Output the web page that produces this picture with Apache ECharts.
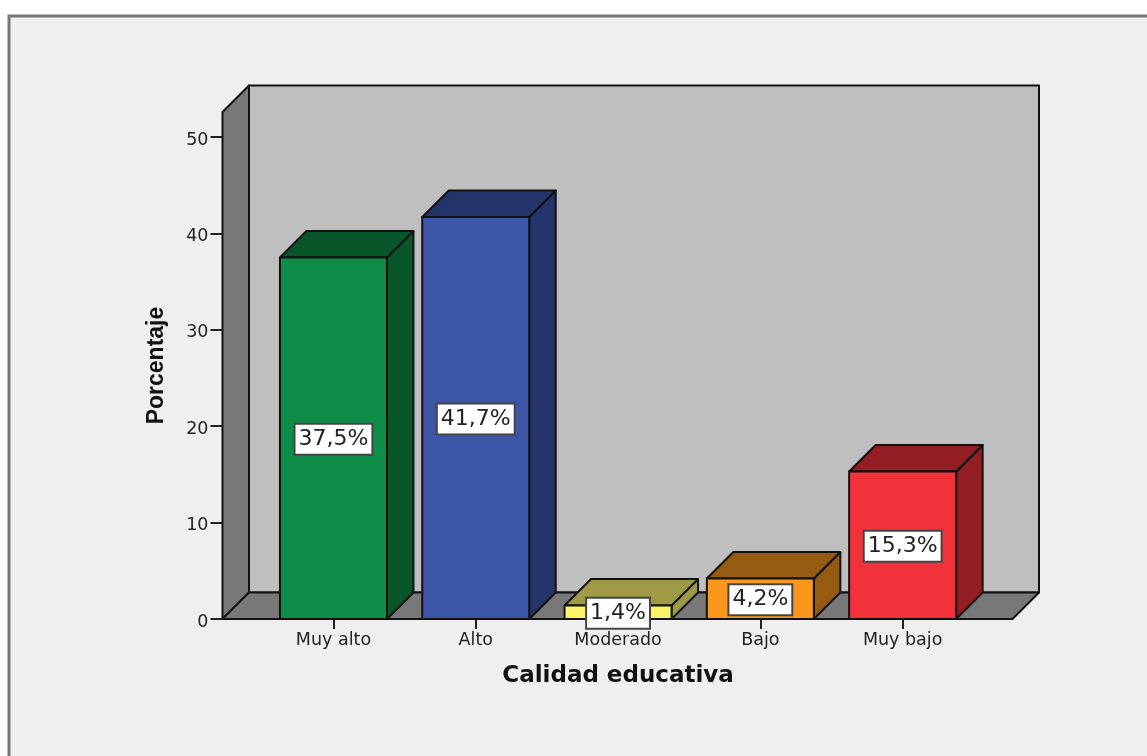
<!DOCTYPE html>
<html><head><meta charset="utf-8">
<style>html,body{margin:0;padding:0;background:#fff}#c{width:1147px;height:756px}</style>
<script src="https://cdn.jsdelivr.net/npm/echarts@6/dist/echarts.min.js"></script>
</head><body><div id="c"></div>
<script>
const categories = ['Muy alto','Alto','Moderado','Bajo','Muy bajo'];
const values = [37.5,41.7,1.4,4.2,15.3];
const valueLabels = ['37,5%','41,7%','1,4%','4,2%','15,3%'];
const frontColors = ['#0f8c47','#3d56a8','#fbf36a','#f9981c','#f2323a'];
const shadeColors = ['#08562a','#24356b','#9e9a45','#955b10','#921e24'];
const topColors = ['#08562a','#24356b','#9e9a45','#955b10','#921e24'];
const yTicks = [0,10,20,30,40,50];

const DEPTH = 26.5, LINE = '#111', LW = 2;
const shape = (pts, fill) => ({type:'polygon', shape:{points:pts},
  style:{fill, stroke:LINE, lineWidth:LW, lineJoin:'round'}});

function renderBox(params, api){
  const cs = params.coordSys;
  const bottom = cs.y + cs.height, top = cs.y;
  const L = 222.5, R = 1012.5, d = DEPTH;
  return {type:'group', children:[
    shape([[L+d,top-d],[R+d,top-d],[R+d,bottom-d],[L+d,bottom-d]], '#bfbfbf'),
    shape([[L,top],[L+d,top-d],[L+d,bottom-d],[L,bottom]], '#787878'),
    shape([[L,bottom],[L+d,bottom-d],[R+d,bottom-d],[R,bottom]], '#787878')
  ]};
}
function renderBar(params, api){
  const i = api.value(0), v = api.value(1);
  const base = api.coord([i,0]), topP = api.coord([i,v]), mid = api.coord([i,v/2]);
  const w = api.size([1,0])[0]*0.752, x0 = base[0]-w/2, x1 = base[0]+w/2, d = DEPTH;
  return {type:'group', children:[
    shape([[x1,base[1]],[x1+d,base[1]-d],[x1+d,topP[1]-d],[x1,topP[1]]], shadeColors[i]),
    shape([[x0,topP[1]],[x0+d,topP[1]-d],[x1+d,topP[1]-d],[x1,topP[1]]], topColors[i]),
    shape([[x0,base[1]],[x0,topP[1]],[x1,topP[1]],[x1,base[1]]], frontColors[i]),
    {type:'text', x:mid[0], y:mid[1]+1, z2:10, style:{
      text:valueLabels[i], fontFamily:'DejaVu Sans', fontSize:22, fill:'#222',
      align:'center', verticalAlign:'middle', backgroundColor:'#fff',
      borderColor:'#444', borderWidth:2, padding:[4,3,3,3]}}
  ]};
}

const chart = echarts.init(document.getElementById('c'), null, {renderer:'canvas'});
chart.setOption({
  animation:false,
  backgroundColor:'#fff',
  graphic:[{type:'rect', z:-10, shape:{x:9,y:16,width:1300,height:900},
    style:{fill:'#efefef', stroke:'#777', lineWidth:3}}],
  grid:{left:262.3, top:112, width:711.5, height:507, containLabel:false},
  xAxis:{type:'category', data:categories,
    axisLine:{show:false},
    axisTick:{show:true, alignWithLabel:true, length:10, lineStyle:{color:'#222',width:2}},
    axisLabel:{fontFamily:'DejaVu Sans', fontSize:17.5, color:'#222', margin:12, interval:0},
    name:'Calidad educativa', nameLocation:'middle', nameGap:46,
    nameTextStyle:{fontFamily:'DejaVu Sans', fontWeight:'bold', fontSize:23, color:'#111'}},
  yAxis:{type:'value', min:0, max:52.6, interval:10, offset:39.8, position:'left',
    splitLine:{show:false},
    axisLine:{show:false},
    axisTick:{show:true, length:12, customValues:yTicks, lineStyle:{color:'#222',width:2}},
    axisLabel:{margin:14, customValues:yTicks, formatter:'{t|{value}}',
      rich:{t:{fontFamily:'DejaVu Sans', fontSize:17.5, color:'#222', padding:[6,0,0,0]}}},
    name:'Porcentaje', nameLocation:'middle', nameGap:54, nameRotate:90,
    nameTextStyle:{fontFamily:'Liberation Sans', fontWeight:'bold', fontSize:23, color:'#111'}},
  series:[
    {type:'custom', renderItem:renderBox, data:[[0,0]], silent:true, z:1, clip:false},
    {type:'custom', renderItem:renderBar, data:values.map((v,i)=>[i,v]), z:2, clip:false,
     encode:{x:0,y:1}}
  ]
});
</script></body></html>
